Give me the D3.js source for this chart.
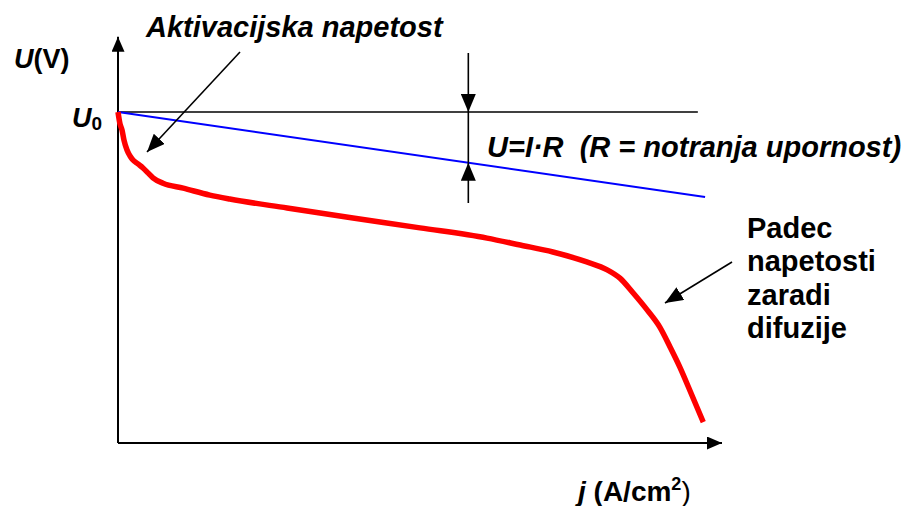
<!DOCTYPE html>
<html>
<head>
<meta charset="utf-8">
<script src="https://cdn.jsdelivr.net/npm/d3@7"></script>
<style>
  body { margin: 0; background: #fff; }
  svg { display: block; font-family: "Liberation Sans", Arial, sans-serif; font-weight: bold; }
</style>
</head>
<body>
<div id="chart"></div>
<script>
// current density j (arbitrary units, 0..100) and cell voltage U (U0 = 100)
const redJ = [0, 0.33, 0.66, 0.99, 1.49, 1.99, 2.48, 3.31, 4.14, 4.97, 5.79, 7.45, 10.8, 15.2, 18.5,
  28.0, 38.9, 50.0, 61.1, 66.6, 72.0, 77.6, 81.0, 83.1, 85.3, 87.6, 89.7, 91.4, 93.0, 95.0, 96.9];
const redU = [100, 96.4, 94.6, 91.5, 88.5, 86.7, 85.5, 84.3, 83.1, 81.6, 80.1, 78.5, 77.0, 74.9, 73.7,
  71.0, 68.0, 65.0, 61.9, 59.8, 57.7, 54.7, 52.3, 49.8, 45.3, 40.2, 35.0, 29.0, 23.0, 14.5, 6.3];
const ohmJ = [0, 97.2];
const ohmU = [100, 74.3];
const u0J = [0, 96.0];
const U0 = 100;
const jMax = 100, uMax = 122.7;
const dimJ = 58;          // where the U=I·R dimension is drawn

const width = 906, height = 506;
const x = d3.scaleLinear().domain([0, 100]).range([118, 722]);
const y = d3.scaleLinear().domain([0, 100]).range([443, 112]);

const svg = d3.select('#chart').append('svg')
  .attr('width', width)
  .attr('height', height);

// arrowheads
const defs = svg.append('defs');
function marker(id, len, w) {
  defs.append('marker')
    .attr('id', id)
    .attr('markerUnits', 'userSpaceOnUse')
    .attr('viewBox', `${-len} ${-w / 2} ${len} ${w}`)
    .attr('refX', 0).attr('refY', 0)
    .attr('markerWidth', len).attr('markerHeight', w)
    .attr('orient', 'auto')
    .append('path')
    .attr('d', `M0,0 L${-len},${-w / 2} L${-len},${w / 2} Z`)
    .attr('fill', '#000');
}
marker('axisHead', 15, 13);
marker('head', 18, 15);

// axes
svg.append('line')
  .attr('x1', x(0)).attr('y1', y(0))
  .attr('x2', x(0)).attr('y2', y(uMax))
  .attr('stroke', '#000').attr('stroke-width', 2)
  .attr('marker-end', 'url(#axisHead)');
svg.append('line')
  .attr('x1', x(0)).attr('y1', y(0))
  .attr('x2', x(jMax)).attr('y2', y(0))
  .attr('stroke', '#000').attr('stroke-width', 2)
  .attr('marker-end', 'url(#axisHead)');

const line = d3.line().x(d => x(d[0])).y(d => y(d[1]));

// U0 level
svg.append('path')
  .datum(u0J.map(j => [j, U0]))
  .attr('d', line)
  .attr('fill', 'none').attr('stroke', '#000').attr('stroke-width', 1.6);

// ohmic line
svg.append('path')
  .datum(ohmJ.map((j, i) => [j, ohmU[i]]))
  .attr('d', line)
  .attr('fill', 'none').attr('stroke', '#0000ff').attr('stroke-width', 2);

// polarisation curve
svg.append('path')
  .datum(redJ.map((j, i) => [j, redU[i]]))
  .attr('d', line.curve(d3.curveMonotoneX))
  .attr('fill', 'none').attr('stroke', '#ff0000').attr('stroke-width', 5.5);

// U = I·R dimension arrows
const ohmAt = d3.scaleLinear().domain(ohmJ).range(ohmU);
const dx = x(dimJ);
svg.append('line')
  .attr('x1', dx).attr('x2', dx)
  .attr('y1', y(U0)).attr('y2', y(ohmAt(dimJ)))
  .attr('stroke', '#000').attr('stroke-width', 1.6);
svg.append('line')
  .attr('x1', dx).attr('x2', dx)
  .attr('y1', 53).attr('y2', y(U0))
  .attr('stroke', '#000').attr('stroke-width', 1.6)
  .attr('marker-end', 'url(#head)');
svg.append('line')
  .attr('x1', dx).attr('x2', dx)
  .attr('y1', 203).attr('y2', y(ohmAt(dimJ)))
  .attr('stroke', '#000').attr('stroke-width', 1.6)
  .attr('marker-end', 'url(#head)');

// pointer arrows
svg.append('line')
  .attr('x1', 240).attr('y1', 52).attr('x2', 147).attr('y2', 152)
  .attr('stroke', '#000').attr('stroke-width', 1.6)
  .attr('marker-end', 'url(#head)');
svg.append('line')
  .attr('x1', 732).attr('y1', 262).attr('x2', 665).attr('y2', 303)
  .attr('stroke', '#000').attr('stroke-width', 1.6)
  .attr('marker-end', 'url(#head)');

// labels
const yl = svg.append('text').attr('x', 14).attr('y', 68).attr('font-size', 27);
yl.append('tspan').attr('font-style', 'italic').text('U');
yl.append('tspan').text('(V)');

const u0 = svg.append('text').attr('x', 72).attr('y', 127).attr('font-size', 27);
u0.append('tspan').attr('font-style', 'italic').text('U');
u0.append('tspan').attr('font-size', 19).attr('dy', 3).text('0');

const xl = svg.append('text').attr('x', 578).attr('y', 501).attr('font-size', 28);
xl.append('tspan').attr('font-style', 'italic').text('j');
xl.append('tspan').text(' (A/cm');
xl.append('tspan').attr('font-size', 18).attr('dy', -11).text('2');
xl.append('tspan').attr('font-weight', 'normal').attr('dy', 11).text(')');

svg.append('text')
  .attr('x', 146).attr('y', 37)
  .attr('font-size', 29).attr('font-style', 'italic')
  .text('Aktivacijska napetost');

svg.append('text')
  .attr('x', 487).attr('y', 157)
  .attr('font-size', 29).attr('font-style', 'italic')
  .attr('xml:space', 'preserve')
  .style('white-space', 'pre')
  .text('U=I\u00B7R  (R = notranja upornost)');

const padec = ['Padec', 'napetosti', 'zaradi', 'difuzije'];
svg.append('text')
  .attr('font-size', 29)
  .selectAll('tspan')
  .data(padec)
  .enter().append('tspan')
  .attr('x', 747)
  .attr('y', (d, i) => 238 + i * 33.4)
  .text(d => d);
</script>
</body>
</html>
